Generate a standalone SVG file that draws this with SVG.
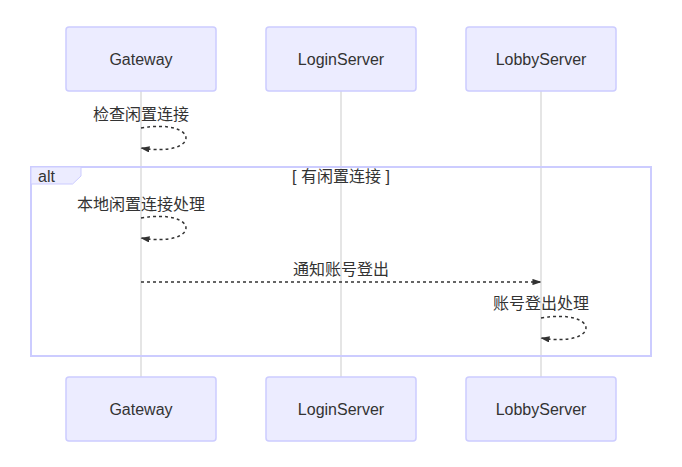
<svg xmlns="http://www.w3.org/2000/svg" width="682" height="467" viewBox="0 0 682 467">
<style>
.actor{fill:#ececff;stroke:#ccccff;stroke-width:1.5}
.atext{font-family:"Liberation Sans",Arial,"Noto Sans CJK SC",sans-serif;font-size:16px;fill:#333;text-anchor:middle;dominant-baseline:central}
.life{stroke:#dddddd;stroke-width:1.5}
.msg{fill:none;stroke:#333;stroke-width:1.5;stroke-dasharray:3,3}
.mtext{font-family:"Liberation Sans",Arial,"Noto Sans CJK SC",sans-serif;font-size:16px;fill:#333;text-anchor:middle}
.loop{fill:none;stroke:#ccccff;stroke-width:2}
.lbox{fill:#ececff;stroke:#ccccff;stroke-width:1}
.ltext{font-family:"Liberation Sans",Arial,"Noto Sans CJK SC",sans-serif;font-size:16px;fill:#333}
</style>
<defs>
<marker id="arrow" viewBox="0 0 10 7" refX="9.5" refY="3.5" markerWidth="9" markerHeight="6.3" markerUnits="userSpaceOnUse" orient="auto">
<path d="M 0 0 L 10 3.5 L 0 7 z" fill="#333"/>
</marker>
</defs>
<g id="lifelines">
<line class="life" x1="141" y1="91" x2="141" y2="377"/>
<line class="life" x1="341" y1="91" x2="341" y2="377"/>
<line class="life" x1="541" y1="91" x2="541" y2="377"/>
</g>
<g id="Gateway-top"><rect class="actor" x="66" y="27" width="150" height="64" rx="3"/><text class="atext" x="141" y="59">Gateway</text></g>
<g id="LoginServer-top"><rect class="actor" x="266" y="27" width="150" height="64" rx="3"/><text class="atext" x="341" y="59">LoginServer</text></g>
<g id="LobbyServer-top"><rect class="actor" x="466" y="27" width="150" height="64" rx="3"/><text class="atext" x="541" y="59">LobbyServer</text></g>
<g id="Gateway-bottom"><rect class="actor" x="66" y="377" width="150" height="64" rx="3"/><text class="atext" x="141" y="409">Gateway</text></g>
<g id="LoginServer-bottom"><rect class="actor" x="266" y="377" width="150" height="64" rx="3"/><text class="atext" x="341" y="409">LoginServer</text></g>
<g id="LobbyServer-bottom"><rect class="actor" x="466" y="377" width="150" height="64" rx="3"/><text class="atext" x="541" y="409">LobbyServer</text></g>
<g id="alt-frame">
<rect class="loop" x="31" y="167" width="620" height="189"/>
<polygon class="lbox" points="31,167 81,167 81,176 72.6,184 31,184"/>
<text class="ltext" x="38" y="182">alt</text>
<text class="mtext" x="341" y="182">[ 有闲置连接 ]</text>
</g>
<g id="connectors">
<text class="mtext" x="141" y="120">检查闲置连接</text>
<path class="msg" d="M 141,128 C 201,118 201,158 141,148" marker-end="url(#arrow)"/>
<text class="mtext" x="141" y="210">本地闲置连接处理</text>
<path class="msg" d="M 141,218 C 201,208 201,248 141,238" marker-end="url(#arrow)"/>
<text class="mtext" x="341" y="275">通知账号登出</text>
<line class="msg" x1="141" y1="282" x2="541" y2="282" marker-end="url(#arrow)"/>
<text class="mtext" x="541" y="309">账号登出处理</text>
<path class="msg" d="M 541,318 C 601,308 601,348 541,338" marker-end="url(#arrow)"/>
</g>
</svg>
